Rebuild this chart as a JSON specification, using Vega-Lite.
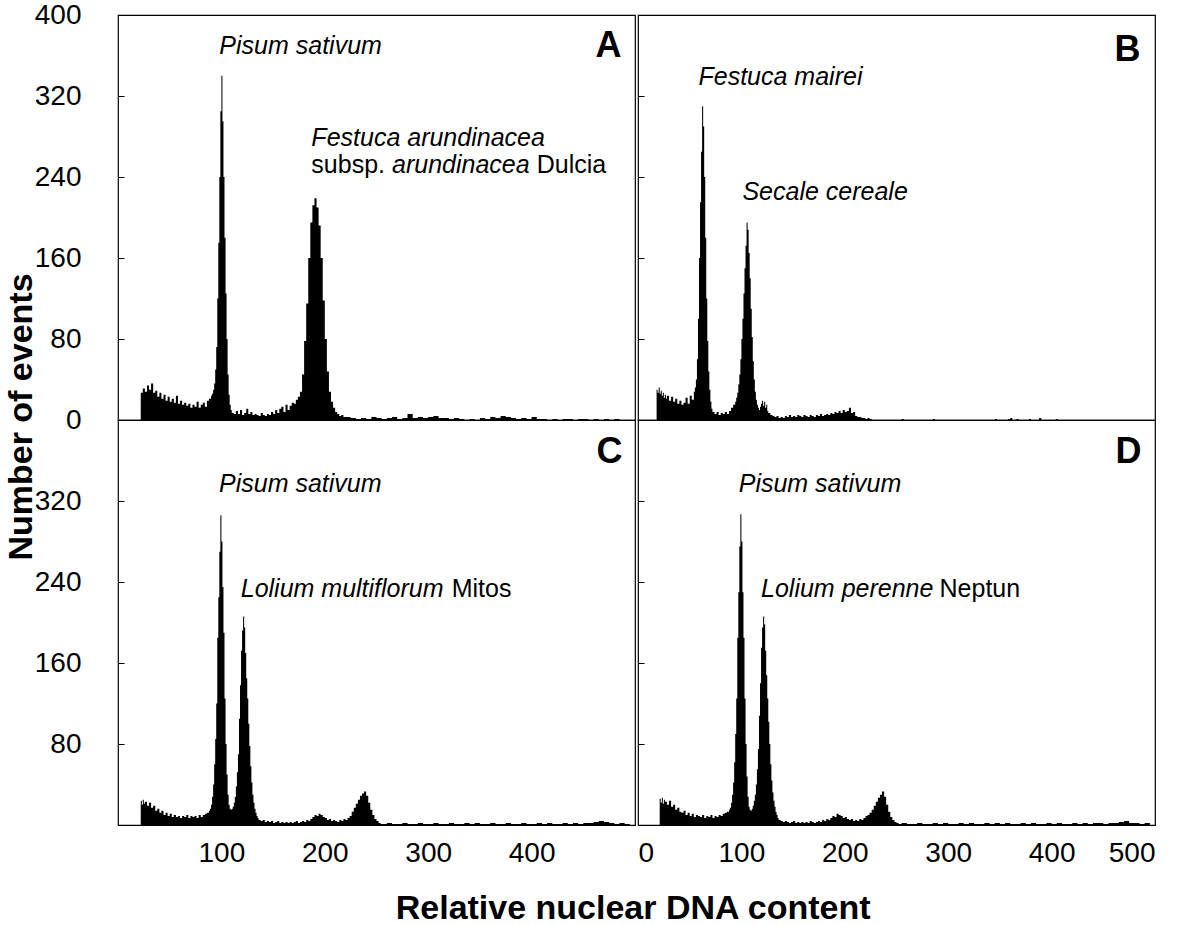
{
"$schema": "https://vega.github.io/schema/vega-lite/v6.json",
"background": "white",
"padding": {"left": 4, "top": 0, "right": 5, "bottom": 5},
"spacing": 0,
"title": {"text": "Relative nuclear DNA content", "orient": "bottom", "anchor": "middle", "offset": 24, "dx": 53, "fontSize": 34, "fontWeight": "bold", "font": "Liberation Sans", "color": "black"},
"datasets": {
"A": [{"x":20,"y":0},{"x":22,"y":27},{"x":24,"y":31},{"x":26,"y":28},{"x":28,"y":34},{"x":30,"y":30},{"x":32,"y":36},{"x":34,"y":27},{"x":36,"y":29},{"x":38,"y":23},{"x":40,"y":27},{"x":42,"y":21},{"x":44,"y":25},{"x":46,"y":19},{"x":48,"y":23},{"x":50,"y":18},{"x":52,"y":21},{"x":54,"y":17},{"x":56,"y":24},{"x":58,"y":16},{"x":60,"y":19},{"x":62,"y":15},{"x":64,"y":17},{"x":66,"y":14},{"x":68,"y":16},{"x":70,"y":12},{"x":72,"y":15},{"x":74,"y":13},{"x":76,"y":18},{"x":78,"y":12},{"x":80,"y":15},{"x":82,"y":17},{"x":84,"y":13},{"x":86,"y":19},{"x":88,"y":21},{"x":90,"y":24},{"x":91,"y":26},{"x":92,"y":30},{"x":93,"y":36},{"x":94,"y":50},{"x":95,"y":72},{"x":96,"y":120},{"x":97,"y":175},{"x":98,"y":240},{"x":99,"y":305},{"x":100,"y":340},{"x":101,"y":295},{"x":102,"y":240},{"x":103,"y":180},{"x":104,"y":125},{"x":105,"y":80},{"x":106,"y":45},{"x":107,"y":25},{"x":108,"y":15},{"x":109,"y":10},{"x":110,"y":7},{"x":112,"y":6},{"x":114,"y":9},{"x":116,"y":6},{"x":118,"y":10},{"x":120,"y":5},{"x":122,"y":7},{"x":124,"y":11},{"x":126,"y":6},{"x":128,"y":8},{"x":130,"y":5},{"x":132,"y":6},{"x":134,"y":5},{"x":136,"y":4},{"x":138,"y":7},{"x":140,"y":5},{"x":142,"y":4},{"x":144,"y":6},{"x":146,"y":5},{"x":148,"y":8},{"x":150,"y":6},{"x":152,"y":10},{"x":154,"y":7},{"x":156,"y":11},{"x":158,"y":13},{"x":160,"y":8},{"x":162,"y":15},{"x":164,"y":10},{"x":166,"y":14},{"x":168,"y":17},{"x":170,"y":16},{"x":172,"y":20},{"x":174,"y":23},{"x":176,"y":28},{"x":178,"y":45},{"x":180,"y":78},{"x":182,"y":115},{"x":184,"y":160},{"x":186,"y":195},{"x":188,"y":212},{"x":190,"y":219},{"x":192,"y":210},{"x":194,"y":192},{"x":196,"y":160},{"x":198,"y":118},{"x":200,"y":80},{"x":202,"y":48},{"x":204,"y":28},{"x":206,"y":18},{"x":208,"y":12},{"x":210,"y":8},{"x":212,"y":6},{"x":214,"y":4},{"x":216,"y":5},{"x":218,"y":3},{"x":220,"y":3},{"x":225,"y":2},{"x":230,"y":1},{"x":235,"y":2},{"x":240,"y":1},{"x":245,"y":3},{"x":250,"y":2},{"x":255,"y":1},{"x":260,"y":2},{"x":265,"y":3},{"x":270,"y":1},{"x":275,"y":2},{"x":280,"y":6},{"x":285,"y":2},{"x":290,"y":3},{"x":295,"y":2},{"x":300,"y":3},{"x":305,"y":4},{"x":310,"y":2},{"x":315,"y":2},{"x":320,"y":1},{"x":325,"y":2},{"x":330,"y":1},{"x":335,"y":0},{"x":340,"y":1},{"x":345,"y":0},{"x":350,"y":2},{"x":355,"y":1},{"x":360,"y":3},{"x":365,"y":2},{"x":370,"y":4},{"x":375,"y":3},{"x":380,"y":2},{"x":385,"y":1},{"x":390,"y":2},{"x":395,"y":1},{"x":400,"y":3},{"x":405,"y":1},{"x":410,"y":1},{"x":415,"y":0},{"x":420,"y":1},{"x":425,"y":0},{"x":430,"y":1},{"x":435,"y":1},{"x":440,"y":0},{"x":445,"y":1},{"x":450,"y":1},{"x":455,"y":0},{"x":460,"y":1},{"x":465,"y":0},{"x":470,"y":1},{"x":475,"y":0},{"x":480,"y":1},{"x":485,"y":0}],
"B": [{"x":16,"y":0},{"x":18,"y":30},{"x":19,"y":27},{"x":20,"y":32},{"x":21,"y":26},{"x":22,"y":29},{"x":23,"y":24},{"x":24,"y":27},{"x":25,"y":22},{"x":26,"y":25},{"x":27,"y":21},{"x":28,"y":24},{"x":30,"y":19},{"x":32,"y":23},{"x":34,"y":18},{"x":36,"y":21},{"x":38,"y":16},{"x":40,"y":19},{"x":42,"y":15},{"x":44,"y":17},{"x":46,"y":22},{"x":48,"y":16},{"x":50,"y":24},{"x":52,"y":20},{"x":54,"y":28},{"x":55,"y":32},{"x":56,"y":40},{"x":57,"y":60},{"x":58,"y":100},{"x":59,"y":160},{"x":60,"y":215},{"x":61,"y":265},{"x":62,"y":310},{"x":63,"y":290},{"x":64,"y":240},{"x":65,"y":180},{"x":66,"y":120},{"x":67,"y":78},{"x":68,"y":48},{"x":69,"y":30},{"x":70,"y":18},{"x":71,"y":11},{"x":72,"y":8},{"x":74,"y":6},{"x":76,"y":8},{"x":78,"y":5},{"x":80,"y":7},{"x":82,"y":6},{"x":84,"y":8},{"x":86,"y":6},{"x":88,"y":9},{"x":90,"y":12},{"x":92,"y":15},{"x":94,"y":18},{"x":95,"y":22},{"x":96,"y":27},{"x":97,"y":35},{"x":98,"y":45},{"x":99,"y":60},{"x":100,"y":80},{"x":101,"y":100},{"x":102,"y":125},{"x":103,"y":150},{"x":104,"y":172},{"x":105,"y":195},{"x":106,"y":188},{"x":107,"y":165},{"x":108,"y":140},{"x":109,"y":110},{"x":110,"y":82},{"x":111,"y":58},{"x":112,"y":40},{"x":113,"y":28},{"x":114,"y":20},{"x":115,"y":15},{"x":116,"y":12},{"x":117,"y":10},{"x":118,"y":13},{"x":119,"y":16},{"x":120,"y":19},{"x":121,"y":14},{"x":122,"y":18},{"x":123,"y":12},{"x":124,"y":15},{"x":125,"y":9},{"x":126,"y":7},{"x":128,"y":5},{"x":130,"y":4},{"x":132,"y":3},{"x":134,"y":4},{"x":136,"y":2},{"x":138,"y":3},{"x":140,"y":2},{"x":142,"y":4},{"x":144,"y":3},{"x":146,"y":5},{"x":148,"y":3},{"x":150,"y":4},{"x":152,"y":3},{"x":154,"y":5},{"x":156,"y":4},{"x":158,"y":3},{"x":160,"y":5},{"x":162,"y":4},{"x":164,"y":3},{"x":166,"y":5},{"x":168,"y":4},{"x":170,"y":3},{"x":172,"y":5},{"x":174,"y":4},{"x":176,"y":6},{"x":178,"y":4},{"x":180,"y":5},{"x":182,"y":6},{"x":184,"y":5},{"x":186,"y":7},{"x":188,"y":6},{"x":190,"y":8},{"x":192,"y":7},{"x":194,"y":9},{"x":196,"y":7},{"x":198,"y":10},{"x":200,"y":8},{"x":202,"y":9},{"x":204,"y":12},{"x":206,"y":7},{"x":208,"y":8},{"x":210,"y":4},{"x":212,"y":3},{"x":214,"y":3},{"x":216,"y":2},{"x":218,"y":2},{"x":220,"y":1},{"x":222,"y":2},{"x":224,"y":1},{"x":226,"y":0},{"x":255,"y":1},{"x":257,"y":0},{"x":285,"y":1},{"x":287,"y":0},{"x":345,"y":1},{"x":347,"y":0},{"x":358,"y":1},{"x":360,"y":2},{"x":362,"y":0},{"x":366,"y":1},{"x":368,"y":0},{"x":378,"y":1},{"x":380,"y":0},{"x":388,"y":2},{"x":390,"y":0},{"x":404,"y":1},{"x":406,"y":0}],
"C": [{"x":20,"y":0},{"x":22,"y":24},{"x":23,"y":20},{"x":24,"y":25},{"x":25,"y":21},{"x":26,"y":23},{"x":28,"y":19},{"x":30,"y":22},{"x":32,"y":17},{"x":34,"y":19},{"x":36,"y":14},{"x":38,"y":16},{"x":40,"y":12},{"x":42,"y":14},{"x":44,"y":10},{"x":46,"y":12},{"x":48,"y":9},{"x":50,"y":11},{"x":52,"y":8},{"x":54,"y":10},{"x":56,"y":8},{"x":58,"y":9},{"x":60,"y":7},{"x":62,"y":9},{"x":64,"y":8},{"x":66,"y":10},{"x":68,"y":7},{"x":70,"y":9},{"x":72,"y":8},{"x":74,"y":9},{"x":76,"y":7},{"x":78,"y":10},{"x":80,"y":8},{"x":82,"y":10},{"x":84,"y":11},{"x":86,"y":12},{"x":88,"y":14},{"x":89,"y":16},{"x":90,"y":20},{"x":91,"y":28},{"x":92,"y":40},{"x":93,"y":60},{"x":94,"y":85},{"x":95,"y":120},{"x":96,"y":185},{"x":97,"y":225},{"x":98,"y":270},{"x":99,"y":306},{"x":100,"y":280},{"x":101,"y":235},{"x":102,"y":190},{"x":103,"y":125},{"x":104,"y":80},{"x":105,"y":50},{"x":106,"y":30},{"x":107,"y":20},{"x":108,"y":16},{"x":109,"y":15},{"x":110,"y":16},{"x":111,"y":18},{"x":112,"y":22},{"x":113,"y":28},{"x":114,"y":38},{"x":115,"y":52},{"x":116,"y":70},{"x":117,"y":105},{"x":118,"y":138},{"x":119,"y":172},{"x":120,"y":192},{"x":121,"y":206},{"x":122,"y":195},{"x":123,"y":170},{"x":124,"y":145},{"x":125,"y":125},{"x":126,"y":100},{"x":127,"y":78},{"x":128,"y":58},{"x":129,"y":42},{"x":130,"y":30},{"x":131,"y":22},{"x":132,"y":16},{"x":133,"y":12},{"x":134,"y":9},{"x":135,"y":7},{"x":136,"y":5},{"x":138,"y":4},{"x":140,"y":5},{"x":142,"y":3},{"x":144,"y":4},{"x":146,"y":3},{"x":148,"y":4},{"x":150,"y":2},{"x":152,"y":3},{"x":154,"y":4},{"x":156,"y":2},{"x":158,"y":3},{"x":160,"y":2},{"x":162,"y":3},{"x":164,"y":2},{"x":166,"y":3},{"x":168,"y":2},{"x":170,"y":3},{"x":172,"y":4},{"x":174,"y":2},{"x":176,"y":3},{"x":178,"y":4},{"x":180,"y":3},{"x":182,"y":5},{"x":184,"y":4},{"x":186,"y":6},{"x":188,"y":8},{"x":190,"y":10},{"x":192,"y":9},{"x":194,"y":11},{"x":196,"y":10},{"x":198,"y":8},{"x":200,"y":7},{"x":202,"y":5},{"x":204,"y":6},{"x":206,"y":4},{"x":208,"y":5},{"x":210,"y":4},{"x":212,"y":3},{"x":214,"y":5},{"x":216,"y":4},{"x":218,"y":6},{"x":220,"y":5},{"x":222,"y":7},{"x":224,"y":9},{"x":226,"y":13},{"x":228,"y":17},{"x":230,"y":21},{"x":232,"y":25},{"x":234,"y":29},{"x":236,"y":31},{"x":238,"y":33},{"x":240,"y":29},{"x":242,"y":22},{"x":244,"y":15},{"x":246,"y":10},{"x":248,"y":6},{"x":250,"y":4},{"x":252,"y":2},{"x":254,"y":1},{"x":260,"y":2},{"x":265,"y":1},{"x":270,"y":1},{"x":275,"y":2},{"x":280,"y":1},{"x":285,"y":1},{"x":290,"y":2},{"x":295,"y":1},{"x":300,"y":1},{"x":305,"y":2},{"x":310,"y":1},{"x":315,"y":1},{"x":320,"y":2},{"x":325,"y":1},{"x":330,"y":1},{"x":335,"y":2},{"x":340,"y":1},{"x":345,"y":2},{"x":350,"y":1},{"x":355,"y":1},{"x":360,"y":2},{"x":365,"y":1},{"x":370,"y":1},{"x":375,"y":2},{"x":380,"y":1},{"x":385,"y":1},{"x":390,"y":2},{"x":395,"y":1},{"x":400,"y":1},{"x":405,"y":2},{"x":410,"y":1},{"x":415,"y":2},{"x":420,"y":1},{"x":425,"y":1},{"x":430,"y":2},{"x":435,"y":1},{"x":440,"y":2},{"x":445,"y":1},{"x":450,"y":2},{"x":455,"y":2},{"x":460,"y":3},{"x":465,"y":4},{"x":470,"y":3},{"x":475,"y":2},{"x":480,"y":1},{"x":485,"y":2},{"x":490,"y":1},{"x":495,"y":0}],
"D": [{"x":19,"y":0},{"x":21,"y":26},{"x":22,"y":22},{"x":23,"y":27},{"x":24,"y":21},{"x":25,"y":25},{"x":26,"y":23},{"x":28,"y":20},{"x":30,"y":24},{"x":32,"y":18},{"x":34,"y":20},{"x":36,"y":15},{"x":38,"y":17},{"x":40,"y":13},{"x":42,"y":12},{"x":44,"y":14},{"x":46,"y":10},{"x":48,"y":12},{"x":50,"y":9},{"x":52,"y":11},{"x":54,"y":8},{"x":56,"y":10},{"x":58,"y":9},{"x":60,"y":8},{"x":62,"y":10},{"x":64,"y":7},{"x":66,"y":9},{"x":68,"y":8},{"x":70,"y":10},{"x":72,"y":7},{"x":74,"y":9},{"x":76,"y":8},{"x":78,"y":10},{"x":80,"y":9},{"x":82,"y":11},{"x":84,"y":12},{"x":86,"y":13},{"x":88,"y":15},{"x":89,"y":17},{"x":90,"y":22},{"x":91,"y":30},{"x":92,"y":42},{"x":93,"y":62},{"x":94,"y":90},{"x":95,"y":125},{"x":96,"y":185},{"x":97,"y":230},{"x":98,"y":275},{"x":99,"y":307},{"x":100,"y":280},{"x":101,"y":230},{"x":102,"y":185},{"x":103,"y":125},{"x":104,"y":80},{"x":105,"y":48},{"x":106,"y":28},{"x":107,"y":18},{"x":108,"y":15},{"x":109,"y":14},{"x":110,"y":16},{"x":111,"y":19},{"x":112,"y":24},{"x":113,"y":30},{"x":114,"y":40},{"x":115,"y":55},{"x":116,"y":75},{"x":117,"y":108},{"x":118,"y":140},{"x":119,"y":175},{"x":120,"y":195},{"x":121,"y":206},{"x":122,"y":198},{"x":123,"y":172},{"x":124,"y":148},{"x":125,"y":125},{"x":126,"y":102},{"x":127,"y":80},{"x":128,"y":60},{"x":129,"y":44},{"x":130,"y":32},{"x":131,"y":24},{"x":132,"y":18},{"x":133,"y":13},{"x":134,"y":10},{"x":135,"y":7},{"x":136,"y":5},{"x":138,"y":4},{"x":140,"y":3},{"x":142,"y":4},{"x":144,"y":3},{"x":146,"y":2},{"x":148,"y":3},{"x":150,"y":4},{"x":152,"y":2},{"x":154,"y":3},{"x":156,"y":2},{"x":158,"y":3},{"x":160,"y":2},{"x":162,"y":3},{"x":164,"y":2},{"x":166,"y":4},{"x":168,"y":3},{"x":170,"y":2},{"x":172,"y":3},{"x":174,"y":4},{"x":176,"y":3},{"x":178,"y":5},{"x":180,"y":4},{"x":182,"y":6},{"x":184,"y":5},{"x":186,"y":7},{"x":188,"y":9},{"x":190,"y":8},{"x":192,"y":11},{"x":194,"y":10},{"x":196,"y":9},{"x":198,"y":7},{"x":200,"y":8},{"x":202,"y":6},{"x":204,"y":5},{"x":206,"y":6},{"x":208,"y":4},{"x":210,"y":5},{"x":212,"y":4},{"x":214,"y":6},{"x":216,"y":5},{"x":218,"y":7},{"x":220,"y":9},{"x":222,"y":10},{"x":224,"y":12},{"x":226,"y":15},{"x":228,"y":19},{"x":230,"y":23},{"x":232,"y":27},{"x":234,"y":30},{"x":236,"y":33},{"x":238,"y":28},{"x":240,"y":20},{"x":242,"y":13},{"x":244,"y":8},{"x":246,"y":5},{"x":248,"y":3},{"x":250,"y":2},{"x":252,"y":1},{"x":255,"y":2},{"x":260,"y":1},{"x":265,"y":1},{"x":270,"y":2},{"x":275,"y":1},{"x":280,"y":1},{"x":285,"y":2},{"x":290,"y":1},{"x":295,"y":2},{"x":300,"y":1},{"x":305,"y":1},{"x":310,"y":2},{"x":315,"y":1},{"x":320,"y":2},{"x":325,"y":1},{"x":330,"y":1},{"x":335,"y":2},{"x":340,"y":1},{"x":345,"y":2},{"x":350,"y":1},{"x":355,"y":2},{"x":360,"y":1},{"x":365,"y":1},{"x":370,"y":2},{"x":375,"y":1},{"x":380,"y":2},{"x":385,"y":1},{"x":390,"y":1},{"x":395,"y":2},{"x":400,"y":1},{"x":405,"y":2},{"x":410,"y":1},{"x":415,"y":1},{"x":420,"y":2},{"x":425,"y":1},{"x":430,"y":2},{"x":435,"y":1},{"x":440,"y":2},{"x":445,"y":2},{"x":450,"y":1},{"x":455,"y":2},{"x":460,"y":2},{"x":465,"y":3},{"x":470,"y":4},{"x":475,"y":2},{"x":480,"y":2},{"x":485,"y":1},{"x":490,"y":2},{"x":495,"y":0}],
"italic": [{"p":"A","x":98,"y":369,"t":"Pisum sativum"},{"p":"A","x":187,"y":279,"t":"Festuca arundinacea"},{"p":"A","x":265,"y":252,"t":"arundinacea"},{"p":"B","x":58.5,"y":339,"t":"Festuca mairei"},{"p":"B","x":101,"y":225,"t":"Secale cereale"},{"p":"C","x":97.7,"y":337,"t":"Pisum sativum"},{"p":"C","x":118.7,"y":233,"t":"Lolium multiflorum"},{"p":"D","x":97.4,"y":337,"t":"Pisum sativum"},{"p":"D","x":119,"y":233,"t":"Lolium perenne"}],
"regular": [{"p":"A","x":187,"y":252,"t":"subsp."},{"p":"A","x":405,"y":252,"t":"Dulcia"},{"p":"C","x":322.7,"y":233,"t":"Mitos"},{"p":"D","x":291.6,"y":233,"t":"Neptun"}],
"letter": [{"p":"A","x":487,"y":369,"t":"A"},{"p":"B","x":486,"y":365,"t":"B"},{"p":"C","x":488,"y":368,"t":"C"},{"p":"D","x":487,"y":368,"t":"D"}]
},
"hconcat": [
{"title": {"text": "Number of events", "orient": "left", "anchor": "middle", "offset": -5, "dx": 17, "fontSize": 34, "fontWeight": "bold", "font": "Liberation Sans", "color": "black"},
 "bounds": "flush",
 "spacing": 0,
 "vconcat": [
 {"width": 517, "height": 405,
  "encoding": {
   "x": {"field": "x", "type": "quantitative", "scale": {"domain": [0, 500], "nice": false, "zero": false}, "axis": null},
   "y": {"field": "y", "type": "quantitative", "scale": {"domain": [0, 400], "nice": false}, "axis": {"values": [0, 80, 160, 240, 320, 400], "title": null}}
  },
  "layer": [
   {"data": {"name": "A"}, "mark": {"type": "area", "interpolate": "step-after", "color": "black"}},
   {"data": {"name": "italic"}, "transform": [{"filter": "datum.p === 'A'"}], "mark": {"type": "text", "align": "left", "baseline": "middle", "fontSize": 25, "fontStyle": "italic", "font": "Liberation Sans", "color": "black"}, "encoding": {"text": {"field": "t"}}},
   {"data": {"name": "regular"}, "transform": [{"filter": "datum.p === 'A'"}], "mark": {"type": "text", "align": "left", "baseline": "middle", "fontSize": 25, "font": "Liberation Sans", "color": "black"}, "encoding": {"text": {"field": "t"}}},
   {"data": {"name": "letter"}, "transform": [{"filter": "datum.p === 'A'"}], "mark": {"type": "text", "align": "right", "baseline": "middle", "fontSize": 36, "fontWeight": "bold", "font": "Liberation Sans", "color": "black"}, "encoding": {"text": {"field": "t"}}}
  ]
 },
 {"width": 517, "height": 405,
  "encoding": {
   "x": {"field": "x", "type": "quantitative", "scale": {"domain": [0, 500], "nice": false, "zero": false}, "axis": {"values": [100, 200, 300, 400], "title": null}},
   "y": {"field": "y", "type": "quantitative", "scale": {"domain": [0, 400], "nice": false}, "axis": {"values": [80, 160, 240, 320], "title": null}}
  },
  "layer": [
   {"data": {"name": "C"}, "mark": {"type": "area", "interpolate": "step-after", "color": "black"}},
   {"data": {"name": "italic"}, "transform": [{"filter": "datum.p === 'C'"}], "mark": {"type": "text", "align": "left", "baseline": "middle", "fontSize": 25, "fontStyle": "italic", "font": "Liberation Sans", "color": "black"}, "encoding": {"text": {"field": "t"}}},
   {"data": {"name": "regular"}, "transform": [{"filter": "datum.p === 'C'"}], "mark": {"type": "text", "align": "left", "baseline": "middle", "fontSize": 25, "font": "Liberation Sans", "color": "black"}, "encoding": {"text": {"field": "t"}}},
   {"data": {"name": "letter"}, "transform": [{"filter": "datum.p === 'C'"}], "mark": {"type": "text", "align": "right", "baseline": "middle", "fontSize": 36, "fontWeight": "bold", "font": "Liberation Sans", "color": "black"}, "encoding": {"text": {"field": "t"}}}
  ]
 }
 ]
},
{"bounds": "flush",
 "spacing": 0,
 "vconcat": [
 {"width": 517, "height": 405,
  "encoding": {
   "x": {"field": "x", "type": "quantitative", "scale": {"domain": [0, 500], "nice": false, "zero": false}, "axis": null},
   "y": {"field": "y", "type": "quantitative", "scale": {"domain": [0, 400], "nice": false}, "axis": {"values": [80, 160, 240, 320], "labels": false, "title": null}}
  },
  "layer": [
   {"data": {"name": "B"}, "mark": {"type": "area", "interpolate": "step-after", "color": "black"}},
   {"data": {"name": "italic"}, "transform": [{"filter": "datum.p === 'B'"}], "mark": {"type": "text", "align": "left", "baseline": "middle", "fontSize": 25, "fontStyle": "italic", "font": "Liberation Sans", "color": "black"}, "encoding": {"text": {"field": "t"}}},
   {"data": {"name": "letter"}, "transform": [{"filter": "datum.p === 'B'"}], "mark": {"type": "text", "align": "right", "baseline": "middle", "fontSize": 36, "fontWeight": "bold", "font": "Liberation Sans", "color": "black"}, "encoding": {"text": {"field": "t"}}}
  ]
 },
 {"width": 517, "height": 405,
  "encoding": {
   "x": {"field": "x", "type": "quantitative", "scale": {"domain": [0, 500], "nice": false, "zero": false}, "axis": {"values": [0, 100, 200, 300, 400, 500], "title": null}},
   "y": {"field": "y", "type": "quantitative", "scale": {"domain": [0, 400], "nice": false}, "axis": {"values": [80, 160, 240, 320], "labels": false, "title": null}}
  },
  "layer": [
   {"data": {"name": "D"}, "mark": {"type": "area", "interpolate": "step-after", "color": "black"}},
   {"data": {"name": "italic"}, "transform": [{"filter": "datum.p === 'D'"}], "mark": {"type": "text", "align": "left", "baseline": "middle", "fontSize": 25, "fontStyle": "italic", "font": "Liberation Sans", "color": "black"}, "encoding": {"text": {"field": "t"}}},
   {"data": {"name": "regular"}, "transform": [{"filter": "datum.p === 'D'"}], "mark": {"type": "text", "align": "left", "baseline": "middle", "fontSize": 25, "font": "Liberation Sans", "color": "black"}, "encoding": {"text": {"field": "t"}}},
   {"data": {"name": "letter"}, "transform": [{"filter": "datum.p === 'D'"}], "mark": {"type": "text", "align": "right", "baseline": "middle", "fontSize": 36, "fontWeight": "bold", "font": "Liberation Sans", "color": "black"}, "encoding": {"text": {"field": "t"}}}
  ]
 }
 ]
}
],
"resolve": {"scale": {"x": "independent", "y": "independent"}},
"config": {
 "view": {"stroke": "black", "strokeWidth": 1.2, "fill": "white"},
 "font": "Liberation Sans",
 "concat": {"spacing": 0},
 "axis": {"grid": false, "domain": false, "labelFont": "Liberation Sans", "labelFontSize": 28, "labelColor": "black", "tickColor": "black", "tickSize": -6, "labelPadding": 43},
 "axisX": {"ticks": false, "labelPadding": 14},
 "title": {"font": "Liberation Sans", "color": "black", "fontSize": 34, "fontWeight": "bold"}
}
}
